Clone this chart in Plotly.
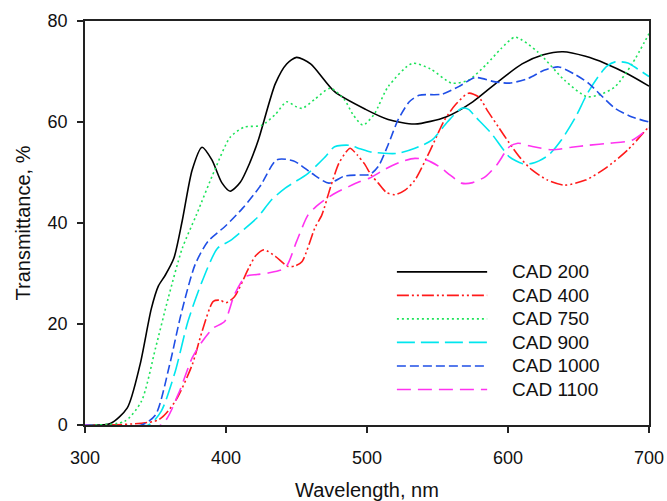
import plotly.graph_objects as go

# ---- data ----
wl_200 = [300, 318, 330, 339, 347, 352, 357, 363, 369, 376, 383, 390, 397, 403, 410, 417, 423, 435, 443, 450,
          460, 477, 499, 515, 534, 556, 575, 593, 610, 625, 639, 655, 669, 685, 700]
t_200 = [0, 0.3, 3.4, 11.9, 23, 27.5, 29.7, 33, 40.5, 50.5, 55, 52.5, 48, 46.3, 48, 52, 56.5, 67.6, 71.5, 72.8,
         71.5, 66, 62.5, 60.5, 59.6, 61, 64, 68, 71.5, 73.3, 73.9, 73, 71.6, 69.5, 67.1]

wl_400 = [300, 352, 364, 376, 383, 391, 396, 400, 406, 416, 421, 427, 435, 444, 449, 454, 463, 468, 474, 480,
          485, 488, 493, 498, 503, 508, 514, 520, 527, 534, 545, 555, 563, 572, 579, 586, 593, 601, 609, 617,
          628, 640, 655, 669, 685, 700]
t_400 = [0, 1, 4.7, 11.9, 18.5, 24.5, 24.7, 24.2, 25.4, 31, 33.5, 34.7, 33.4, 31.4, 31.5, 32.4, 39, 41.6, 47, 51.8,
         54, 54.8, 53.5, 51.8, 49.5, 47.9, 46, 45.6, 46.5, 48.5, 54.5, 60.4, 63.5, 65.7, 65, 62, 59.1, 55.8, 52.8, 50.5,
         48.5, 47.5, 48.5, 50.8, 54.5, 59.1]

wl_750 = [300, 328, 340, 350, 359, 369, 379, 392, 403, 413, 425, 435, 443, 450, 454, 463, 474, 484, 490, 497,
          505, 515, 532, 545, 560, 572, 585, 595, 605, 621, 640, 656, 666, 676, 688, 700]
t_750 = [0, 0.7, 4.7, 15.2, 25.1, 35, 41.6, 50.5, 57, 59, 59.3, 61.5, 64, 63, 62.7, 64.5, 66.7, 64.4, 61.5, 59.4,
         61.5, 67, 71.6, 70.5, 67.7, 68.3, 71.5, 74.5, 76.8, 73.9, 68.3, 65, 65.5, 67, 71.5, 77.5]

wl_900 = [300, 345, 354, 364, 373, 383, 394, 403, 413, 423, 432, 442, 458, 470, 477, 487, 495, 502, 512, 522,
          534, 546, 557, 567, 572, 577, 588, 601, 610, 617, 622, 629, 638, 648, 656, 664, 670, 676, 685, 692, 700]
t_900 = [0, 0, 2.7, 10.6, 20.5, 28.4, 35, 36.5, 38.8, 41.3, 44.5, 46.9, 49.8, 53, 55.1, 55.4, 54.7, 54.1, 53.8, 53.8,
         54.8, 56.4, 60, 62.7, 62.5, 61, 57.8, 53.1, 51.8, 51.8, 52.3, 53.5, 56.5, 61, 65.5, 69, 71, 71.9, 71.7, 70.5, 69]

wl_1000 = [300, 340, 350, 360, 368, 378, 387, 400, 412, 424, 436, 448, 461, 473, 484, 495, 502, 508, 515, 522,
           530, 537, 553, 565, 577, 590, 601, 614, 626, 636, 647, 657, 667, 676, 688, 700]
t_1000 = [0, 0, 2, 11.9, 21.8, 31.7, 36.3, 39.5, 43, 47.2, 52.5, 52.3, 49.8, 47.9, 49.3, 49.5, 49.6, 51.2, 55.5, 60.4,
          64, 65.3, 65.5, 67, 68.8, 68, 67.7, 68.6, 70.3, 70.9, 69.5, 67.7, 65, 62.7, 61, 60]

wl_1100 = [300, 354, 366, 376, 383, 391, 399, 406, 414, 422, 430, 442, 450, 458, 464, 470, 478, 487, 495, 502,
           510, 518, 526, 534, 542, 551, 559, 567, 575, 584, 592, 601, 607, 615, 631, 645, 657, 672, 688, 700]
t_1100 = [0, 0, 6, 13.3, 16.5, 19.2, 20.5, 25.8, 29.4, 29.8, 30.1, 31.1, 36.3, 41.5, 43.3, 44.6, 46, 47.2, 48.2, 48.9,
          50.2, 51.4, 52.3, 52.8, 52.5, 51.2, 49.5, 47.9, 48, 49.2, 51.5, 55.1, 55.8, 55.3, 54.5, 55, 55.4, 55.8, 56.4, 58.8]

names = ["CAD 200", "CAD 400", "CAD 750", "CAD 900", "CAD 1000", "CAD 1100"]
xs = [wl_200, wl_400, wl_750, wl_900, wl_1000, wl_1100]
ys = [t_200, t_400, t_750, t_900, t_1000, t_1100]
colors = ["#000000", "#ff1a1a", "#1ee35a", "#00e6ee", "#1f4fe6", "#ff33f0"]
dashes = ["solid", "12px,3px,2px,3px,2px,3px", "2px,3px", "18px,6px", "9px,4px", "14px,7px"]

x_ticks = [300, 400, 500, 600, 700]
y_ticks = [0, 20, 40, 60, 80]

FONT = "Arial, Liberation Sans, sans-serif"

fig = go.Figure()
for x, y, n, c, d in zip(xs, ys, names, colors, dashes):
    fig.add_trace(go.Scatter(x=x, y=y, name=n, mode="lines",
                             line=dict(color=c, dash=d, width=1.6, shape="spline", smoothing=0.7),
                             showlegend=False))

# manual legend (long line samples like the original)
leg_x0, leg_x1, leg_tx = 0.553, 0.713, 0.753
leg_top, leg_step = 0.379, 0.0582
for i, (n, c, d) in enumerate(zip(names, colors, dashes)):
    yy = leg_top - i * leg_step
    fig.add_shape(type="line", xref="paper", yref="paper", x0=leg_x0, x1=leg_x1, y0=yy, y1=yy,
                  line=dict(color=c, dash=d, width=1.6))
    fig.add_annotation(xref="paper", yref="paper", x=leg_tx, y=yy, text=n, showarrow=False,
                       xanchor="left", yanchor="middle", font=dict(family=FONT, size=19, color="#111"))

axis_common = dict(showline=True, linecolor="#222", linewidth=1.5, mirror=True,
                   ticks="outside", ticklen=6, tickwidth=1.5, tickcolor="#222",
                   showgrid=False, zeroline=False, automargin=False,
                   tickfont=dict(family=FONT, size=18, color="#111"))

fig.update_layout(
    width=667, height=501,
    margin=dict(l=85, r=18, t=21, b=76),
    paper_bgcolor="white", plot_bgcolor="white",
    xaxis=dict(range=[300, 700], tickvals=x_ticks, ticklabelstandoff=10,
               title=dict(text="Wavelength, nm", font=dict(family=FONT, size=20, color="#111"), standoff=18),
               **axis_common),
    yaxis=dict(range=[0, 80], tickvals=y_ticks, ticklabelstandoff=6,
               title=dict(text="Transmittance, %", font=dict(family=FONT, size=20, color="#111"), standoff=12),
               **axis_common),
)

fig.write_html("out.html")
